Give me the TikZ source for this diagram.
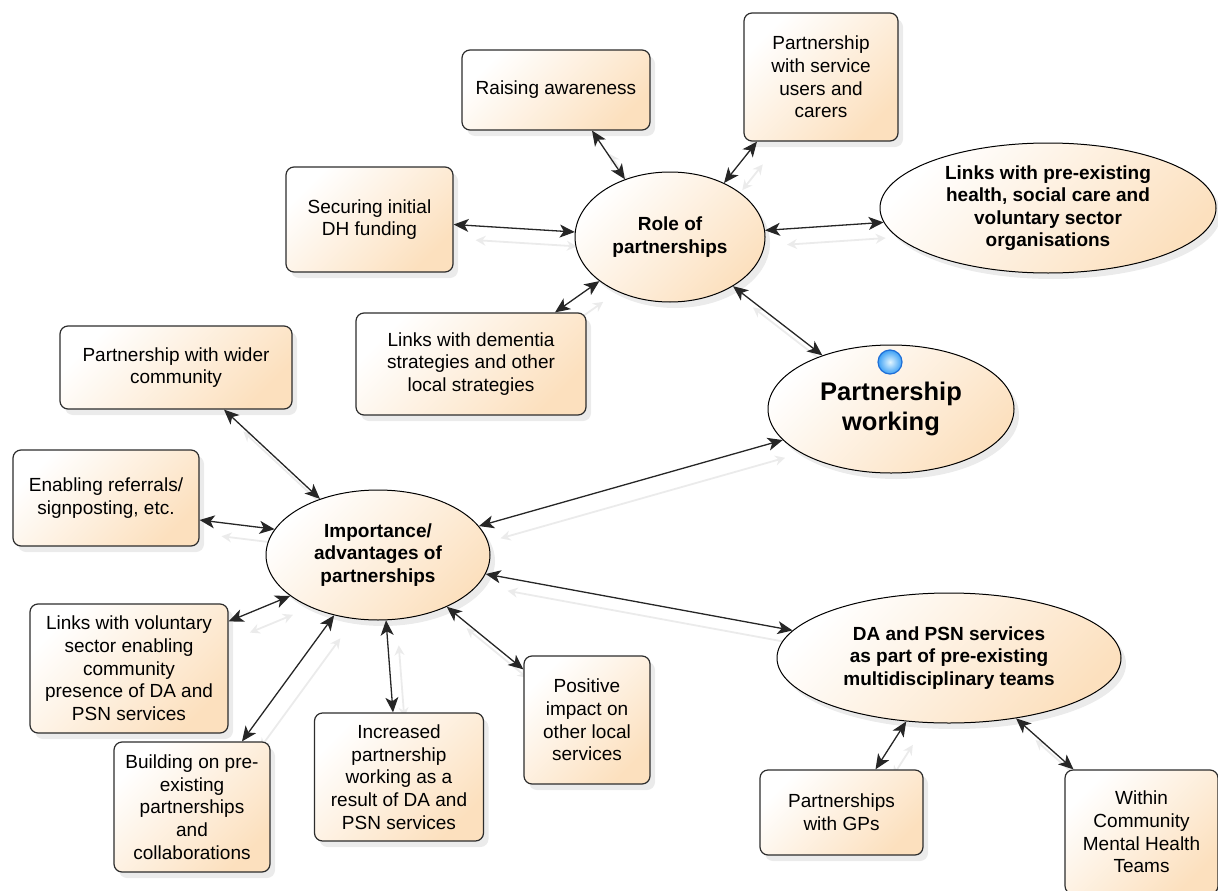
\documentclass[tikz,border=0pt]{standalone}
\usepackage{fontspec}
\setmainfont{Liberation Sans}
\usetikzlibrary{arrows.meta,shapes.geometric,shadows,backgrounds}
\definecolor{peach}{RGB}{252,224,190}
\definecolor{edgegray}{RGB}{45,45,45}
\definecolor{dotblue}{RGB}{60,160,245}
\definecolor{dotlight}{RGB}{225,245,255}
\definecolor{dotrim}{RGB}{30,110,215}
\newcommand\biarrow[2]{%
  \begin{scope}[on background layer]\draw[ghostline] #1 -- #2;\end{scope}%
  \draw[connline] #1 -- #2;}
\begin{document}
\begin{tikzpicture}[x=1pt,y=-1pt,
  box/.style={draw=edgegray, line width=1.2pt, rounded corners=8pt,
    top color=white, bottom color=peach, shading angle=45,
    align=center, inner sep=0pt, font=\fontsize{19}{22.7}\selectfont,
    drop shadow={shadow xshift=5pt, shadow yshift=-6pt, opacity=0.16}},
  oval/.style={ellipse, draw=black, line width=1pt,
    top color=white, bottom color=peach, shading angle=45,
    align=center, inner sep=0pt, font=\bfseries\fontsize{19}{22.5}\selectfont,
    drop shadow={shadow xshift=5pt, shadow yshift=-6pt, opacity=0.16}},
  connline/.style={draw=black!85, line width=1.3pt,
    {Stealth[length=15pt,width=13pt,inset=4pt]}-{Stealth[length=15pt,width=13pt,inset=4pt]}},
  ghostline/.style={draw=black!8, line width=1.8pt, shorten <=10pt, shorten >=10pt,
    {Stealth[length=10pt,width=10pt]}-{Stealth[length=10pt,width=10pt]},
    transform canvas={xshift=12pt,yshift=-15pt}}]
\useasboundingbox (0,0) rectangle (1218,891);

\node[box, minimum width=188pt, minimum height=80pt] (raise) at (556,90) {Raising awareness};
\node[box, minimum width=154pt, minimum height=128pt] (users) at (821,77) {Partnership\\with service\\users and\\carers};
\node[box, minimum width=167pt, minimum height=105pt] (secure) at (369.5,219.5) {Securing initial\\DH funding};
\node[oval, minimum width=190pt, minimum height=130pt] (role) at (670,237) {Role of\\partnerships};
\node[oval, minimum width=336pt, minimum height=130pt] (pre) at (1048,208) {Links with pre-existing\\health, social care and\\voluntary sector\\organisations};
\node[box, minimum width=230pt, minimum height=102pt] (dem) at (471,364) {Links with dementia\\strategies and other\\local strategies};
\node[box, minimum width=232pt, minimum height=83pt] (wider) at (176,367.5) {Partnership with wider\\community};
\node[oval, minimum width=246pt, minimum height=128pt, font=\bfseries\fontsize{25.5}{29.5}\selectfont] (pw) at (891,409) {Partnership\\working};
\node[circle, minimum size=24pt, inner sep=0pt, draw=dotrim, line width=1.2pt, inner color=dotlight, outer color=dotblue] (dot) at (890,362) {};
\node[box, minimum width=186pt, minimum height=96pt] (enab) at (106,498) {Enabling referrals/\\signposting, etc.};
\node[oval, minimum width=224pt, minimum height=130pt] (imp) at (378,555) {Importance/\\advantages of\\partnerships};
\node[box, minimum width=198pt, minimum height=129pt] (vol) at (129,668.5) {Links with voluntary\\sector enabling\\community\\presence of DA and\\PSN services};
\node[box, minimum width=156pt, minimum height=130pt] (build) at (192,807) {Building on pre-\\existing\\partnerships\\and\\collaborations};
\node[box, minimum width=169pt, minimum height=128pt] (incr) at (399,777) {Increased\\partnership\\working as a\\result of DA and\\PSN services};
\node[box, minimum width=126pt, minimum height=128pt] (pos) at (587,720) {Positive\\impact on\\other local\\services};
\node[oval, minimum width=344pt, minimum height=130pt] (da) at (949,658) {DA and PSN services\\as part of pre-existing\\multidisciplinary teams};
\node[box, minimum width=163pt, minimum height=85pt] (gps) at (841.5,812.5) {Partnerships\\with GPs};
\node[box, minimum width=153pt, minimum height=124pt] (cmht) at (1141.5,832) {Within\\Community\\Mental Health\\Teams};

\biarrow{([xshift=36pt]raise.south)}{(role.128)}
\biarrow{([xshift=-64pt]users.south)}{(role.45)}
\biarrow{([yshift=-5pt]secure.east)}{(role.177.5)}
\biarrow{(role.4)}{(pre.185)}
\biarrow{([xshift=84pt]dem.north)}{(role.212.6)}
\biarrow{(role.322)}{(pw.142)}
\biarrow{([xshift=48pt]wider.south)}{(imp.136.5)}
\biarrow{([yshift=-22pt]enab.east)}{(imp.166.7)}
\biarrow{(pw.196)}{(imp.16)}
\biarrow{(imp.350.6)}{(da.170)}
\biarrow{([yshift=-18pt]vol.north east)}{(imp.205)}
\biarrow{([xshift=50pt]build.north)}{(imp.234)}
\biarrow{([xshift=-6pt]incr.north)}{(imp.277.6)}
\biarrow{([yshift=-14pt]pos.north west)}{(imp.323.6)}
\biarrow{(da.236)}{([xshift=34pt]gps.north)}
\biarrow{(da.318.8)}{([xshift=-68pt]cmht.north)}
\end{tikzpicture}
\end{document}
